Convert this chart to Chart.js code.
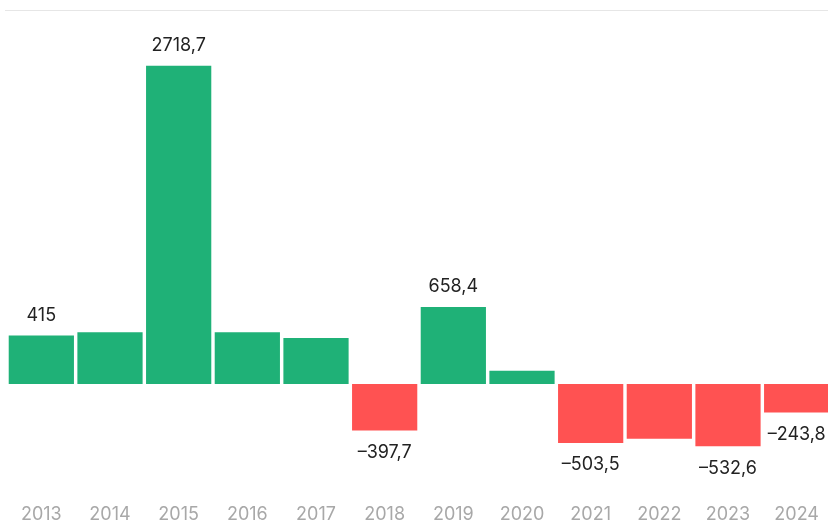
<!DOCTYPE html>
<html lang="ru">
<head>
  <meta charset="UTF-8" />
  <title>Bar chart</title>
  <style>
    html, body {
      margin: 0;
      padding: 0;
      background: #fff;
      overflow: hidden;
    }
    .topline {
      position: absolute;
      left: 5px;
      right: 0;
      top: 10px;
      height: 1px;
      background: #e6e6e6;
    }
    .wrap {
      position: absolute;
      left: 0;
      top: 0;
      width: 832px;
      height: 524px;
    }
  </style>
</head>
<body>
  <div class="topline"></div>
  <div class="wrap"><canvas id="chart"></canvas></div>

  <script src="https://cdn.jsdelivr.net/npm/chart.js"></script>
  <script>
    const years = ['2013', '2014', '2015', '2016', '2017', '2018', '2019', '2020', '2021', '2022', '2023', '2024'];
    const values = [415, 443, 2718.7, 443, 392, -397.7, 658.4, 113, -503.5, -467, -532.6, -243.8];
    // which bars carry a value label
    const showLabel = [true, false, true, false, false, true, true, false, true, false, true, true];

    const green = '#1fb177';
    const red = '#ff5252';

    function fmt(v) {
      let s = Number.isInteger(v) ? String(Math.abs(v)) : Math.abs(v).toFixed(1).replace('.', ',');
      return v < 0 ? '–' + s : s;
    }

    const valueLabels = {
      id: 'valueLabels',
      afterDatasetsDraw(chart) {
        const ctx = chart.ctx;
        const meta = chart.getDatasetMeta(0);
        ctx.save();
        ctx.font = '18px Inter, "Noto Sans", sans-serif';
        ctx.fillStyle = '#222';
        ctx.textAlign = 'center';
        ctx.textBaseline = 'middle';
        meta.data.forEach((bar, i) => {
          if (!showLabel[i]) return;
          const v = values[i];
          const y = v >= 0 ? bar.y - 20 : bar.y + 22;
          ctx.fillText(fmt(v), bar.x, y);
        });
        ctx.restore();
      }
    };

    new Chart(document.getElementById('chart'), {
      type: 'bar',
      data: {
        labels: years,
        datasets: [{
          data: values,
          backgroundColor: values.map(v => v >= 0 ? green : red),
          borderWidth: 0,
          barPercentage: 0.95,
          categoryPercentage: 1.0
        }]
      },
      options: {
        responsive: true,
        maintainAspectRatio: false,
        animation: false,
        layout: { padding: { left: 7, right: 1, top: 56, bottom: 0 } },
        plugins: {
          legend: { display: false },
          tooltip: { enabled: false }
        },
        scales: {
          x: {
            grid: { display: false },
            border: { display: false },
            afterFit(scale) { scale.height = 34; },
            ticks: {
              color: '#a8a8a8',
              font: { family: 'Inter, "Noto Sans", sans-serif', size: 18 },
              padding: 6,
              maxRotation: 0
            }
          },
          y: {
            display: false,
            min: -906,
            max: 2803
          }
        }
      },
      plugins: [valueLabels]
    });
  </script>
</body>
</html>
